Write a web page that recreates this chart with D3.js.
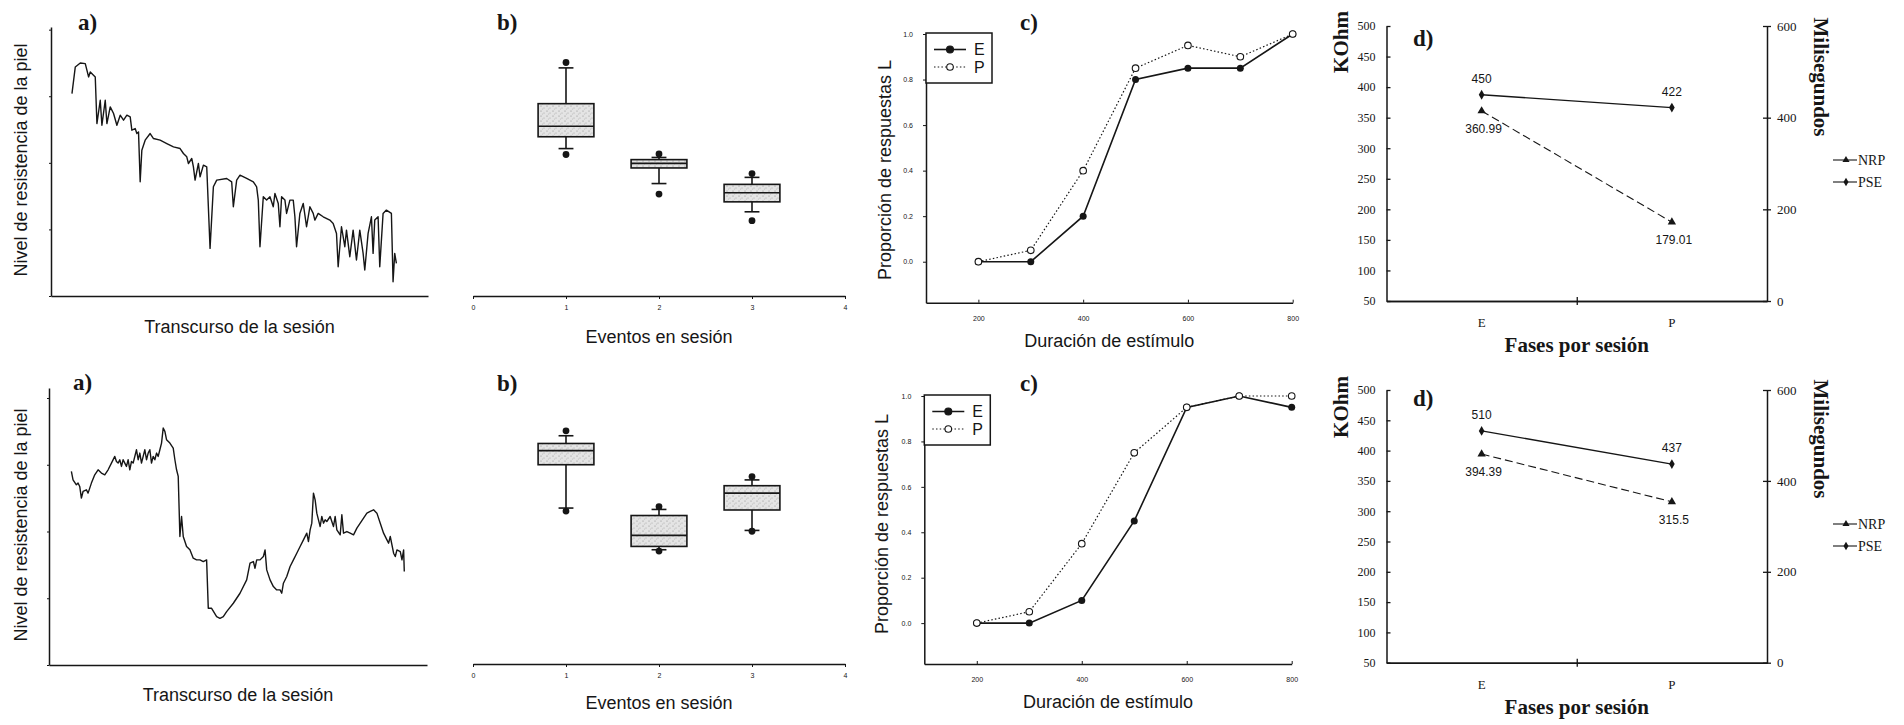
<!DOCTYPE html>
<html>
<head>
<meta charset="utf-8">
<script src="https://cdn.jsdelivr.net/npm/d3@7"></script>
<style>
body { margin: 0; background: #fff; }
svg { display: block; }
.sans { font-family: "Liberation Sans", Arial, sans-serif; }
.serif { font-family: "Liberation Serif", "Times New Roman", serif; }
</style>
</head>
<body>
<svg id="chart" width="1904" height="725"></svg>
<script>
'use strict';

// ---- data ----
// a) skin resistance trace, [time, level] in arbitrary units
const traceTop = [[63,608],[73,688],[88,700],[103,698],[113,658],[118,673],[133,658],[138,518],[148,588],[153,513],
  [163,588],[168,518],[178,568],[188,548],[198,513],[208,543],[218,528],[228,543],[238,538],[243,498],[253,503],
  [258,488],[263,493],[268,343],[273,438],[283,468],[298,488],[308,473],[328,468],[348,458],[368,448],[388,443],
  [398,428],[408,418],[413,398],[423,413],[428,388],[433,348],[443,398],[448,358],[458,393],[468,388],[478,143],
  [488,328],[498,348],[528,353],[543,343],[548,268],[558,348],[568,363],[588,353],[608,343],[618,328],[623,288],
  [628,148],[638,298],[648,288],[658,298],[668,268],[673,308],[683,278],[688,208],[693,298],[703,288],[708,248],
  [718,288],[728,288],[733,238],[738,148],[748,248],[758,278],[768,208],[778,268],[788,248],[793,228],[803,248],
  [818,238],[838,228],[848,218],[858,188],[863,88],[873,208],[883,148],[888,198],[898,118],[908,198],[918,108],
  [928,198],[938,128],[943,78],[953,188],[963,238],[968,128],[973,228],[983,238],[988,88],[998,248],[1008,258],
  [1023,248],[1028,43],[1033,128],[1038,98]];
const traceBottom = [[67,580],[72,555],[82,540],[87,545],[92,535],[97,500],[102,520],[112,525],[117,515],[122,530],
  [127,545],[137,570],[147,585],[157,575],[167,570],[177,585],[187,605],[197,625],[202,610],[207,605],[212,615],
  [217,595],[222,615],[227,605],[232,595],[237,615],[242,585],[247,610],[252,605],[262,645],[267,615],[272,635],
  [277,605],[282,625],[287,645],[292,615],[297,635],[302,645],[307,605],[312,625],[317,615],[322,635],[327,625],
  [332,645],[337,665],[342,710],[347,700],[352,675],[362,665],[372,650],[377,615],[382,585],[387,565],[392,385],
  [397,445],[402,385],[412,355],[422,345],[432,320],[442,315],[452,315],[462,310],[472,315],[477,170],[487,170],
  [502,145],[512,140],[522,145],[532,160],[552,185],[572,215],[592,255],[602,305],[612,310],[617,290],[622,315],
  [632,315],[642,325],[647,345],[652,285],[662,255],[672,235],[682,225],[692,225],[697,215],[702,245],[712,265],
  [722,295],[732,315],[742,335],[752,355],[762,375],[772,395],[777,370],[782,405],[787,425],[792,515],[797,495],
  [802,455],[807,435],[812,415],[817,445],[822,425],[827,435],[832,430],[842,445],[852,415],[857,445],[862,405],
  [872,390],[877,450],[882,395],[892,400],[902,395],[912,390],[922,410],[932,425],[942,440],[952,455],[962,460],
  [972,465],[982,455],[992,425],[1002,395],[1012,375],[1017,365],[1022,385],[1032,335],[1037,325],[1042,345],
  [1052,340],[1057,315],[1062,345],[1064,280]];

// b) box plots: [low outlier, low whisker, q1, median, q3, high whisker, high outlier]
const boxEvents = [1, 2, 3];
const eventTicks = [0, 1, 2, 3, 4];
const boxTop = [
  [52.6, 54.8, 59.2, 63.1, 71.5, 84.8, 86.8],
  [37.9, 41.8, 47.6, 49.3, 50.7, 51.5, 52.8],
  [28.0, 31.3, 35.0, 38.4, 41.5, 44.1, 45.5]];
const boxBottom = [
  [55.4, 56.5, 72.2, 77.3, 79.9, 82.7, 84.5],
  [40.9, 41.4, 42.6, 46.6, 53.8, 56.0, 57.0],
  [48.1, 48.4, 55.8, 61.9, 64.6, 66.7, 67.9]];

// c) proportion of L responses by stimulus duration
const duracion = [200, 300, 400, 500, 600, 700, 800];
const durTicks = [200, 400, 600, 800];
const propTicks = [0, 0.2, 0.4, 0.6, 0.8, 1.0];
const propTopE = [0, 0, 0.2, 0.8, 0.85, 0.85, 1.0];
const propTopP = [0, 0.05, 0.4, 0.85, 0.95, 0.9, 1.0];
const propBotE = [0, 0, 0.1, 0.45, 0.95, 1.0, 0.95];
const propBotP = [0, 0.05, 0.35, 0.75, 0.95, 1.0, 1.0];

// d) NRP (KOhm, left axis) and PSE (ms, right axis) by phase
const fases = ['E', 'P'];
const kohmTicks = [50, 100, 150, 200, 250, 300, 350, 400, 450, 500];
const msTicks = [0, 200, 400, 600];
const nrpTop = [360.99, 179.01];
const pseTop = [450, 422];
const nrpBot = [394.39, 315.5];
const pseBot = [510, 437];

// ---- layout ----
const ink = '#161616';
const rows = [
  {a: {left: 51, right: 428, top: 27, bottom: 296, tMax: 1133, vMax: 808, tag: [78, 30], xlab: 333, ylab: [27, 160]},
   b: {left: 473, right: 845, top: 27, bottom: 296, tag: [497, 30], xlab: 343},
   c: {left: 926, right: 1292.7, top: 34, bottom: 302.7, tag: [1020, 30], xlab: 347, ylab: [891, 170]},
   d: {left: 1386.5, right: 1767, top: 26, bottom: 301, tag: [1413, 46], xlab: 352, kohm: [1348, 42], ms: [1814, 77]}},
  {a: {left: 49, right: 427, top: 388, bottom: 665, tMax: 1132, vMax: 830, tag: [73, 390], xlab: 701, ylab: [27, 525]},
   b: {left: 473, right: 845, top: 388, bottom: 664, tag: [497, 391], xlab: 709},
   c: {left: 924.3, right: 1291.7, top: 396, bottom: 664, tag: [1020, 391], xlab: 708, ylab: [888, 524]},
   d: {left: 1386.5, right: 1767, top: 390, bottom: 662.7, tag: [1413, 406], xlab: 714, kohm: [1348, 407], ms: [1814, 439]}}
];

const svg = d3.select('#chart');

const defs = svg.append('defs');
const pat = defs.append('pattern').attr('id', 'stipple')
  .attr('width', 6).attr('height', 5).attr('patternUnits', 'userSpaceOnUse');
pat.append('rect').attr('width', 6).attr('height', 5).attr('fill', '#e4e4e4');
[[1, 1, '#8a8a8a'], [4, 3, '#a5a5a5'], [2.5, 4, '#bdbdbd']].forEach(([cx, cy, c]) =>
  pat.append('circle').attr('cx', cx).attr('cy', cy).attr('r', 0.6).attr('fill', c));

function styleAxis(g, cls, size) {
  g.attr('font-family', null).attr('font-size', null).attr('class', cls).style('font-size', size + 'px');
  g.select('.domain').attr('stroke', ink).attr('stroke-width', 1.5);
  g.selectAll('.tick line').attr('stroke', ink);
  g.selectAll('.tick text').attr('fill', ink);
  return g;
}

function tag(L, txt) {
  svg.append('text').attr('class', 'serif').attr('x', L.tag[0]).attr('y', L.tag[1])
    .style('font-size', '23px').style('font-weight', 'bold').attr('fill', ink).text(txt);
}

function xLabel(L, txt, cls, size, weight) {
  svg.append('text').attr('class', cls).attr('x', (L.left + L.right) / 2).attr('y', L.xlab)
    .attr('text-anchor', 'middle').style('font-size', size + 'px').style('font-weight', weight || 'normal')
    .attr('fill', ink).text(txt);
}

function vLabel(pos, txt, cls, size, weight, angle) {
  svg.append('text').attr('class', cls)
    .attr('transform', `translate(${pos[0]},${pos[1]}) rotate(${angle})`)
    .attr('text-anchor', 'middle').style('font-size', size + 'px').style('font-weight', weight || 'normal')
    .attr('fill', ink).text(txt);
}

// a) trace
function drawTrace(L, data) {
  const x = d3.scaleLinear().domain([0, L.tMax]).range([L.left, L.right]);
  const y = d3.scaleLinear().domain([0, L.vMax]).range([L.bottom, L.top]);
  styleAxis(svg.append('g').attr('transform', `translate(0,${L.bottom})`)
    .call(d3.axisBottom(x).tickValues([]).tickSizeOuter(0)), 'sans', 8);
  styleAxis(svg.append('g').attr('transform', `translate(${L.left},0)`)
    .call(d3.axisLeft(y).ticks(5).tickSize(2).tickSizeOuter(0).tickFormat('')), 'sans', 8);
  svg.append('path').datum(data)
    .attr('d', d3.line().x(d => x(d[0])).y(d => y(d[1])))
    .attr('fill', 'none').attr('stroke', ink).attr('stroke-width', 1.4).attr('stroke-linejoin', 'round');
  tag(L, 'a)');
  xLabel(L, 'Transcurso de la sesión', 'sans', 18);
  vLabel(L.ylab, 'Nivel de resistencia de la piel', 'sans', 18, 'normal', -90);
}

// b) box plots
function drawBoxes(L, boxes) {
  const x = d3.scaleLinear().domain([0, 4]).range([L.left, L.right]);
  const y = d3.scaleLinear().domain([0, 100]).range([L.bottom, L.top]);
  styleAxis(svg.append('g').attr('transform', `translate(0,${L.bottom})`)
    .call(d3.axisBottom(x).tickValues(eventTicks).tickSize(3).tickSizeOuter(0).tickPadding(6).tickFormat(d3.format('d'))),
    'sans', 7);
  const g = svg.append('g').attr('stroke', ink).attr('stroke-width', 1.6);
  boxes.forEach((b, i) => {
    const [outLo, wLo, q1, med, q3, wHi, outHi] = b;
    const ev = boxEvents[i];
    const cx = x(ev), hw = x(ev + 0.3) - cx, cw = x(ev + 0.08) - cx;
    g.append('line').attr('x1', cx).attr('x2', cx).attr('y1', y(q3)).attr('y2', y(wHi));
    g.append('line').attr('x1', cx).attr('x2', cx).attr('y1', y(q1)).attr('y2', y(wLo));
    g.append('line').attr('x1', cx - cw).attr('x2', cx + cw).attr('y1', y(wHi)).attr('y2', y(wHi));
    g.append('line').attr('x1', cx - cw).attr('x2', cx + cw).attr('y1', y(wLo)).attr('y2', y(wLo));
    g.append('rect').attr('x', cx - hw).attr('width', 2 * hw)
      .attr('y', y(q3)).attr('height', y(q1) - y(q3)).attr('fill', 'url(#stipple)');
    g.append('line').attr('x1', cx - hw).attr('x2', cx + hw).attr('y1', y(med)).attr('y2', y(med));
    [outLo, outHi].forEach(v => g.append('circle').attr('cx', cx).attr('cy', y(v)).attr('r', 3.4)
      .attr('fill', ink).attr('stroke', 'none'));
  });
  tag(L, 'b)');
  xLabel(L, 'Eventos en sesión', 'sans', 18);
}

// c) proportion curves
function drawProp(L, eVals, pVals) {
  const x = d3.scaleLinear().domain([100, 800]).range([L.left, L.right]);
  const y = d3.scaleLinear().domain([-0.18, 1.0]).range([L.bottom, L.top]);
  const xa = styleAxis(svg.append('g').attr('transform', `translate(0,${L.bottom})`)
    .call(d3.axisBottom(x).tickValues(durTicks).tickSize(3).tickSizeOuter(0).tickPadding(10).tickFormat(d3.format('d'))),
    'sans', 7);
  xa.selectAll('.tick line').attr('y2', -3);
  styleAxis(svg.append('g').attr('transform', `translate(${L.left},0)`)
    .call(d3.axisLeft(y).tickValues(propTicks).tickSize(3).tickSizeOuter(0).tickPadding(10).tickFormat(d3.format('.1f'))),
    'sans', 7);
  const line = d3.line().x(d => x(d[0])).y(d => y(d[1]));
  const eData = duracion.map((d, i) => [d, eVals[i]]);
  const pData = duracion.map((d, i) => [d, pVals[i]]);
  svg.append('path').datum(pData).attr('d', line).attr('fill', 'none')
    .attr('stroke', ink).attr('stroke-width', 1.2).attr('stroke-dasharray', '1.5,2.2');
  svg.append('path').datum(eData).attr('d', line).attr('fill', 'none')
    .attr('stroke', ink).attr('stroke-width', 1.6);
  svg.selectAll(null).data(eData).enter().append('circle')
    .attr('cx', d => x(d[0])).attr('cy', d => y(d[1])).attr('r', 3.5).attr('fill', ink);
  svg.selectAll(null).data(pData).enter().append('circle')
    .attr('cx', d => x(d[0])).attr('cy', d => y(d[1])).attr('r', 3.3)
    .attr('fill', '#fff').attr('stroke', ink).attr('stroke-width', 1.1);

  // legend
  const lg = svg.append('g').attr('transform', `translate(${L.left},${L.top - 1})`);
  lg.append('rect').attr('width', 66).attr('height', 50).attr('fill', '#fff')
    .attr('stroke', ink).attr('stroke-width', 1.5);
  [['E', 16.5, true], ['P', 34, false]].forEach(([name, ly, solid]) => {
    lg.append('line').attr('x1', 8).attr('x2', 40).attr('y1', ly).attr('y2', ly)
      .attr('stroke', ink).attr('stroke-width', solid ? 1.6 : 1.2).attr('stroke-dasharray', solid ? null : '1.5,2.2');
    lg.append('circle').attr('cx', 24).attr('cy', ly).attr('r', solid ? 3.5 : 3.3)
      .attr('fill', solid ? ink : '#fff').attr('stroke', ink).attr('stroke-width', 1.1);
    lg.append('text').attr('class', 'sans').attr('x', 48).attr('y', ly + 5.5)
      .style('font-size', '16px').attr('fill', ink).text(name);
  });
  tag(L, 'c)');
  xLabel(L, 'Duración de estímulo', 'sans', 18);
  vLabel(L.ylab, 'Proporción de respuestas L', 'sans', 18, 'normal', -90);
}

// d) NRP and PSE by phase, two y axes
function drawPhases(L, nrp, pse) {
  const xb = d3.scaleBand().domain(fases).range([L.left, L.right]);
  const xc = f => xb(f) + xb.bandwidth() / 2;
  const xEdge = d3.scaleLinear().domain([0, fases.length]).range([L.left, L.right]);
  const yl = d3.scaleLinear().domain([50, 500]).range([L.bottom, L.top]);
  const yr = d3.scaleLinear().domain([0, 600]).range([L.bottom, L.top]);

  const left = styleAxis(svg.append('g').attr('transform', `translate(${L.left},0)`)
    .call(d3.axisLeft(yl).tickValues(kohmTicks).tickSize(4).tickSizeOuter(0).tickPadding(7)), 'serif', 12);
  left.selectAll('.tick line').attr('x2', 4).attr('stroke-width', 1.3);
  const right = styleAxis(svg.append('g').attr('transform', `translate(${L.right},0)`)
    .call(d3.axisRight(yr).tickValues(msTicks).tickSize(4).tickSizeOuter(0).tickPadding(6)), 'serif', 13);
  right.selectAll('.tick line').attr('x1', -4).attr('stroke-width', 1.3);
  styleAxis(svg.append('g').attr('transform', `translate(0,${L.bottom})`)
    .call(d3.axisBottom(xb).tickSize(0).tickPadding(17).tickSizeOuter(0)), 'serif', 13);
  const edges = styleAxis(svg.append('g').attr('transform', `translate(0,${L.bottom})`)
    .call(d3.axisBottom(xEdge).tickValues([1]).tickSize(4).tickSizeOuter(0).tickFormat('')), 'serif', 12);
  edges.selectAll('.tick line').attr('y1', -4).attr('stroke-width', 1.3);

  const nrpData = fases.map((f, i) => [xc(f), yl(nrp[i]), nrp[i]]);
  const pseData = fases.map((f, i) => [xc(f), yr(pse[i]), pse[i]]);
  const line = d3.line();
  svg.append('path').datum(nrpData.map(d => [d[0], d[1]])).attr('d', line).attr('fill', 'none')
    .attr('stroke', ink).attr('stroke-width', 1.1).attr('stroke-dasharray', '8,4');
  svg.append('path').datum(pseData.map(d => [d[0], d[1]])).attr('d', line).attr('fill', 'none')
    .attr('stroke', ink).attr('stroke-width', 1.4);
  const tri = d3.symbol().type(d3.symbolTriangle).size(30);
  const dia = d3.symbol().type(d3.symbolDiamond).size(28);
  svg.selectAll(null).data(nrpData).enter().append('path').attr('d', tri)
    .attr('transform', d => `translate(${d[0]},${d[1]})`).attr('fill', ink);
  svg.selectAll(null).data(pseData).enter().append('path').attr('d', dia)
    .attr('transform', d => `translate(${d[0]},${d[1]})`).attr('fill', ink);
  const fmt = v => String(v);
  svg.selectAll(null).data(pseData).enter().append('text').attr('class', 'sans')
    .attr('x', d => d[0]).attr('y', d => d[1] - 12).attr('text-anchor', 'middle')
    .style('font-size', '12px').attr('fill', ink).text(d => fmt(d[2]));
  svg.selectAll(null).data(nrpData).enter().append('text').attr('class', 'sans')
    .attr('x', d => d[0] + 2).attr('y', d => d[1] + 22).attr('text-anchor', 'middle')
    .style('font-size', '12px').attr('fill', ink).text(d => fmt(d[2]));

  // legend
  const lg = svg.append('g').attr('transform', `translate(1833,${L.top})`);
  [['NRP', 134, tri], ['PSE', 156, dia]].forEach(([name, ly, sym]) => {
    lg.append('line').attr('x1', 0).attr('x2', 24).attr('y1', ly).attr('y2', ly)
      .attr('stroke', ink).attr('stroke-width', 1.1);
    lg.append('path').attr('d', sym.size(22)).attr('transform', `translate(13,${ly})`).attr('fill', ink);
    lg.append('text').attr('class', 'serif').attr('x', 25).attr('y', ly + 5)
      .style('font-size', '14px').attr('fill', ink).text(name);
  });

  tag(L, 'd)');
  xLabel(L, 'Fases por sesión', 'serif', 21, 'bold');
  vLabel(L.kohm, 'KOhm', 'serif', 21, 'bold', -90);
  vLabel(L.ms, 'Milisegundos', 'serif', 21, 'bold', 90);
}

drawTrace(rows[0].a, traceTop);
drawTrace(rows[1].a, traceBottom);
drawBoxes(rows[0].b, boxTop);
drawBoxes(rows[1].b, boxBottom);
drawProp(rows[0].c, propTopE, propTopP);
drawProp(rows[1].c, propBotE, propBotP);
drawPhases(rows[0].d, nrpTop, pseTop);
drawPhases(rows[1].d, nrpBot, pseBot);
</script>
</body>
</html>
